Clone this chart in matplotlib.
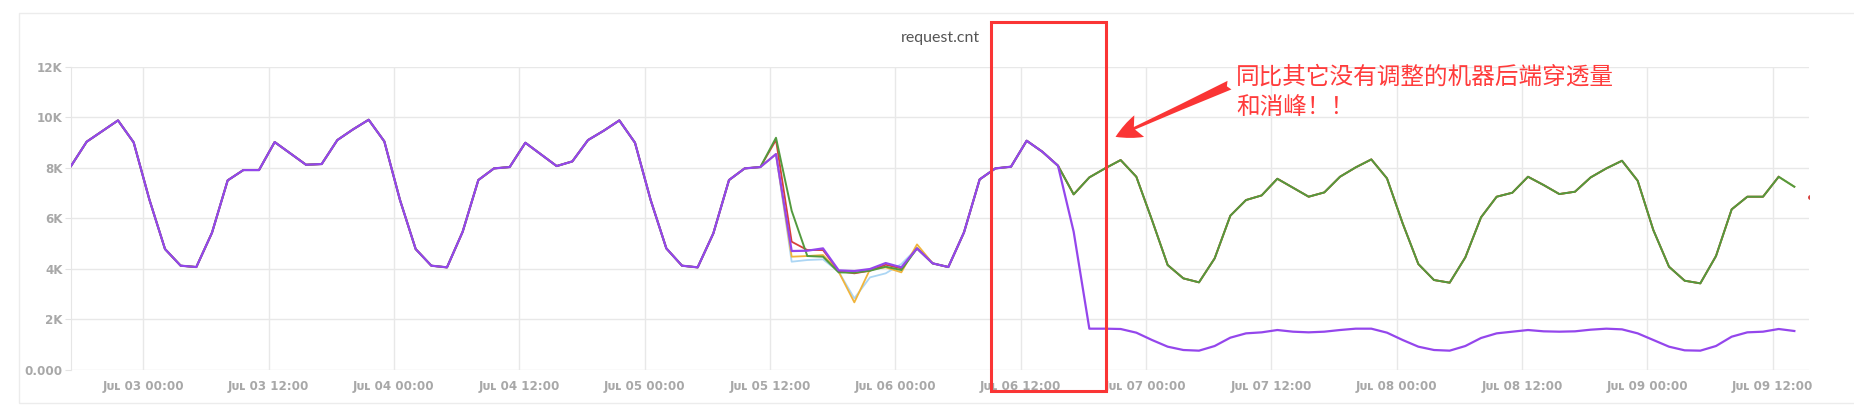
import numpy as np
import pandas as pd
import matplotlib
matplotlib.use("Agg")
import matplotlib.pyplot as plt
import matplotlib.dates as mdates
from matplotlib.ticker import FuncFormatter
from matplotlib.patches import Rectangle, FancyArrowPatch

# samples every 90 minutes starting Jul 02 17:05
start = "2018-07-02 17:05"
step = "90min"

# shared part, all hosts look the same until Jul 05 ~12:00
common = [8069, 9031, 9453, 9875, 9005, 6750, 4786, 4127, 4074, 5432,
          7502, 7910, 7910, 9018, 8570, 8121, 8148, 9097, 9519, 9901,
          9044, 6724, 4786, 4127, 4061, 5471, 7515, 7976, 8029, 8991,
          8530, 8069, 8253, 9097, 9466, 9875, 8991, 6724, 4812, 4127,
          4061, 5405, 7515, 7976, 8029]

# the host that was tuned (purple)
purple_tail = [8543, 4707, 4720, 4812, 3942, 3916, 3995, 4232, 4061, 4812,
               4219, 4074, 5445, 7541, 7976, 8043, 9071, 8636, 8082, 5471,
               1635, 1635, 1622, 1477, 1187, 923, 791, 765, 949, 1279,
               1450, 1490, 1582, 1516, 1490, 1516, 1582, 1635, 1635, 1477,
               1187, 923, 791, 765, 949, 1266, 1450, 1516, 1582, 1530,
               1516, 1530, 1595, 1635, 1608, 1450, 1187, 923, 778, 765,
               949, 1318, 1490, 1516, 1622, 1543]

# untouched hosts (green on top, others mostly hidden under it)
green_tail = [9189, 6300, 4509, 4483, 3863, 3850, 3929, 4087, 3955, 4812,
              4219, 4074, 5445, 7541, 7976, 8043, 9071, 8636, 8082, 6948,
              7620, 7976, 8306, 7646, 5932, 4153, 3626, 3468, 4417, 6104,
              6724, 6908, 7567, 7212, 6856, 7027, 7646, 8016, 8332, 7581,
              5801, 4193, 3560, 3454, 4456, 6038, 6856, 7014, 7646, 7317,
              6961, 7054, 7620, 7976, 8279, 7488, 5537, 4087, 3533, 3428,
              4509, 6355, 6856, 6856, 7646, 7251]

# where the other hosts differ from green (Jul 05 13:00 - Jul 06 02:00)
red_diff = [9100, 5076, 4746, 4746, 3916, 3824, 3929, 4166, 4021]
yellow_diff = [8543, 4483, 4509, 4549, 3889, 2676, 3982, 4061, 3863, 4970]
blue_diff = [8543, 4285, 4351, 4377, 3889, 2834, 3665, 3824, 4193, 4812]
red_last = 6856

yticks = [0, 2000, 4000, 6000, 8000, 10000, 12000]
ytick_labels = ["0.000", "2K", "4K", "6K", "8K", "10K", "12K"]

title = "request.cnt"
note = "同比其它没有调整的机器后端穿透量\n和消峰！！"

purple = np.array(common + purple_tail, dtype=float)
green = np.array(common + green_tail, dtype=float)
n0 = len(common)
red = green.copy()
red[n0:n0 + len(red_diff)] = red_diff
red[-1] = np.nan
red = np.append(red, red_last)
yellow = green.copy()
yellow[n0:n0 + len(yellow_diff)] = yellow_diff
blue = green.copy()
blue[n0:n0 + len(blue_diff)] = blue_diff

t = pd.date_range(start, periods=len(red), freq=step)

W, H = 1854, 405
fig = plt.figure(figsize=(W / 100, H / 100), dpi=100)
ax = fig.add_axes([71 / W, 1 - 370 / H, (1809.3 - 71) / W, (370 - 66.7) / H])

lw = 1.3
ax.plot(t[:len(blue)], blue, color="#acd6f4", lw=lw, zorder=2)
ax.plot(t[:len(yellow)], yellow, color="#f0b43c", lw=lw, zorder=3)
ax.plot(t, red, color="#d6403c", lw=lw, zorder=4)
ax.plot(t[-1:], red[-1:], "o", color="#d6403c", ms=2.5, zorder=4)
ax.plot(t[:len(green)], green, color="#529a3e", lw=lw + 0.1, zorder=5)
ax.plot(t[:len(purple)], purple, color="#9446ec", lw=lw + 0.3, zorder=6)

ax.set_xlim(t[0], pd.Timestamp("2018-07-09 15:31"))
ax.set_ylim(0, 12000)
ax.set_yticks(yticks)
ax.set_yticklabels(ytick_labels)

ax.xaxis.set_major_locator(mdates.HourLocator(byhour=[0, 12]))
ax.xaxis.set_major_formatter(FuncFormatter(
    lambda v, pos: "J\u1d1c\u029f " + mdates.num2date(v).strftime("%d %H:%M")))

ax.grid(True, color="#e8e8e8", lw=1)
ax.set_axisbelow(True)
for s in ["top", "right", "bottom"]:
    ax.spines[s].set_visible(False)
ax.spines["left"].set_color("#e6e6e6")
ax.tick_params(axis="x", length=0, pad=7)
ax.tick_params(axis="y", length=4, color="#e3e3e3", pad=2)
for lab in ax.get_xticklabels() + ax.get_yticklabels():
    lab.set_fontfamily("DejaVu Sans")
    lab.set_fontweight("bold")
    lab.set_fontsize(8.6)
    lab.set_color("#a8a8a8")

fig.text(940 / W, 1 - 38 / H, title, ha="center", va="center",
         fontsize=11.5, color="#555555", family=["Lato", "DejaVu Sans"])

# panel border
fig.patches.append(Rectangle((19 / W, 1 - 403 / H), 1.1, (403 - 13) / H,
                             transform=fig.transFigure, fill=False,
                             edgecolor="#ececec", lw=1))

# red highlight box
fig.patches.append(Rectangle((991 / W, 1 - 391 / H), (1106 - 991) / W, (391 - 22) / H,
                             transform=fig.transFigure, fill=False,
                             edgecolor="#fa3535", lw=2.2, zorder=10))

# arrow + note
fig.patches.append(FancyArrowPatch((1232 / W, 1 - 84 / H), (1113 / W, 1 - 138 / H),
                                   transform=fig.transFigure,
                                   arrowstyle="fancy,head_length=0.55,head_width=0.5,tail_width=0.2",
                                   mutation_scale=34, color="#fa3535", lw=0, zorder=10))
fig.text(1236 / W, 1 - 66 / H, note, ha="left", va="top", fontsize=17,
         color="#ff3b3b", linespacing=1.4, multialignment="left",
         family=["Noto Sans CJK SC", "DejaVu Sans"])

fig.savefig("out.png", dpi=100)
